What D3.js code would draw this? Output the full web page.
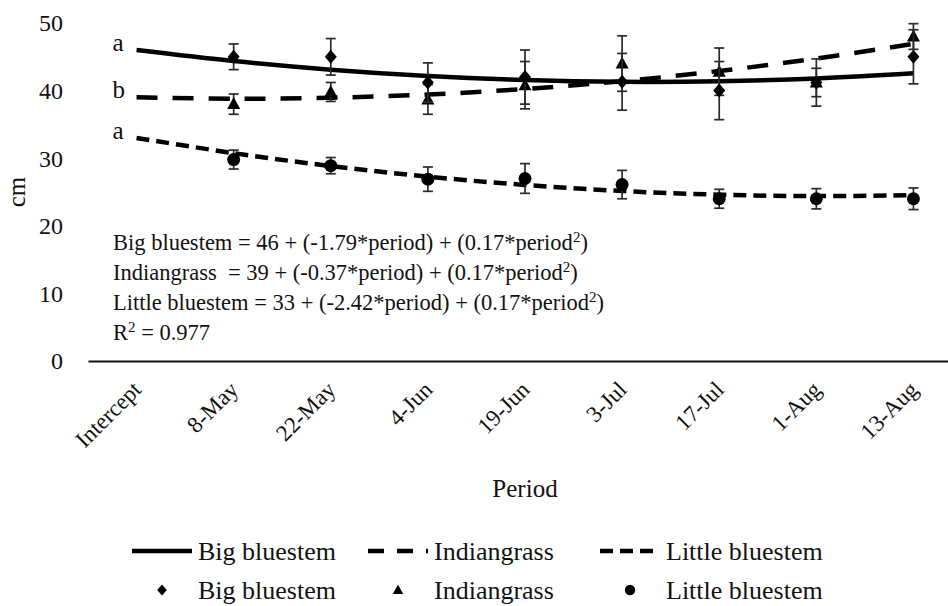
<!DOCTYPE html>
<html>
<head>
<meta charset="utf-8">
<script src="https://cdn.jsdelivr.net/npm/d3@7"></script>
<style>
  body { margin: 0; background: #fff; }
  svg { display: block; }
  svg text { font-family: "Liberation Serif", "Tinos", "Times New Roman", "Nimbus Roman", "FreeSerif", "Noto Serif", "DejaVu Serif", serif; }
</style>
</head>
<body>
<div id="chart"></div>
<script>
// x categories (Intercept = period 0)
const categories = ["Intercept", "8-May", "22-May", "4-Jun", "19-Jun", "3-Jul", "17-Jul", "1-Aug", "13-Aug"];
const sampleDates = categories.slice(1);
const yTicks = [0, 10, 20, 30, 40, 50];

const bigMean = [45.0, 45.0, 41.2, 42.0, 41.3, 40.0, 41.2, 45.0];
const bigErr = [1.9, 2.7, 2.9, 4.0, 4.2, 4.3, 3.5, 4.0];
const indMean = [38.0, 39.8, 38.7, 40.8, 44.0, 42.8, 41.2, 48.0];
const indErr = [1.5, 1.4, 2.2, 3.5, 4.1, 3.5, 2.1, 1.9];
const littleMean = [29.8, 28.9, 26.9, 27.0, 26.1, 24.0, 24.0, 24.0];
const littleErr = [1.4, 1.2, 1.8, 2.2, 2.1, 1.4, 1.5, 1.6];

// fitted curve values at each period
const bigFit = [46.0, 44.38, 43.10, 42.16, 41.56, 41.30, 41.38, 41.80, 42.56];
const indFit = [39.0, 38.80, 38.94, 39.42, 40.24, 41.40, 42.90, 44.74, 46.92];
const littleFit = [33.0, 30.75, 28.84, 27.27, 26.04, 25.15, 24.60, 24.39, 24.52];

const fitLetters = ["a", "b", "a"];
const seriesNames = ["Big bluestem", "Indiangrass", "Little bluestem"];
const equations = [
  ["Big bluestem = 46 + (-1.79*period) + (0.17*period", "2", ")"],
  ["Indiangrass  = 39 + (-0.37*period) + (0.17*period", "2", ")"],
  ["Little bluestem = 33 + (-2.42*period) + (0.17*period", "2", ")"],
  ["R", "2", " = 0.977"]
];

const width = 948, height = 606;
const svg = d3.select("#chart").append("svg")
  .attr("width", width)
  .attr("height", height);

const x = d3.scaleBand().domain(categories).range([88, 962]);
const cx = d => x(d) + x.bandwidth() / 2;
const y = d3.scaleLinear().domain([0, 50]).range([361, 23]);

// y axis: labels only
const gy = svg.append("g")
  .attr("transform", "translate(88,0)")
  .call(d3.axisLeft(y).tickValues(yTicks).tickSize(0).tickPadding(25));
gy.attr("font-family", null);
gy.select(".domain").remove();
gy.selectAll("text")
  .attr("font-size", 24)
  .attr("fill", "#111")
  .attr("dy", "0.33em");

// x axis
const gx = svg.append("g")
  .attr("transform", `translate(0,${y(0)})`)
  .call(d3.axisBottom(x).tickSize(0).tickSizeOuter(0));
gx.attr("font-family", null);
gx.select(".domain").attr("stroke", "#111").attr("stroke-width", 2);
gx.selectAll("text")
  .attr("font-size", 23)
  .attr("fill", "#111")
  .attr("text-anchor", "end")
  .attr("x", 0).attr("y", 0).attr("dy", 0)
  .attr("transform", "translate(6,30) rotate(-45)");

svg.append("text")
  .attr("x", 525).attr("y", 497)
  .attr("text-anchor", "middle")
  .attr("font-size", 25)
  .attr("fill", "#111")
  .text("Period");

svg.append("text")
  .attr("transform", "translate(25,192) rotate(-90)")
  .attr("text-anchor", "middle")
  .attr("font-size", 25)
  .attr("fill", "#111")
  .text("cm");

// fitted curves
const fits = [bigFit, indFit, littleFit];
const dashes = [null, "21,15", "13,7"];
const line = d3.line()
  .x((d, i) => cx(categories[i]))
  .y(d => y(d))
  .curve(d3.curveCatmullRom.alpha(0.5));

fits.forEach((f, k) => {
  svg.append("path")
    .datum(f)
    .attr("fill", "none")
    .attr("stroke", "#000")
    .attr("stroke-width", 4.5)
    .attr("stroke-dasharray", dashes[k])
    .attr("d", line);
  svg.append("text")
    .attr("x", cx(categories[0]) - 24)
    .attr("y", y(f[0]) + 1)
    .attr("font-size", 25)
    .attr("fill", "#111")
    .text(fitLetters[k]);
});

// marker shapes
const shapes = [
  "M0,-7L6,0L0,7L-6,0Z",
  "M0,-7L6.5,5L-6.5,5Z",
  d3.symbol(d3.symbolCircle, Math.PI * 6.5 * 6.5)()
];

const obs = [
  { mean: indMean, err: indErr, shape: shapes[1] },
  { mean: bigMean, err: bigErr, shape: shapes[0] },
  { mean: littleMean, err: littleErr, shape: shapes[2] }
];

obs.forEach(s => {
  const g = svg.append("g");
  const eb = g.selectAll(".eb")
    .data(sampleDates)
    .enter()
    .append("g")
    .attr("stroke", "#2a2a2a")
    .attr("stroke-width", 1.7);
  eb.append("line")
    .attr("x1", d => cx(d)).attr("x2", d => cx(d))
    .attr("y1", (d, i) => y(s.mean[i] + s.err[i]))
    .attr("y2", (d, i) => y(s.mean[i] - s.err[i]));
  eb.append("line")
    .attr("x1", d => cx(d) - 5).attr("x2", d => cx(d) + 5)
    .attr("y1", (d, i) => y(s.mean[i] + s.err[i]))
    .attr("y2", (d, i) => y(s.mean[i] + s.err[i]));
  eb.append("line")
    .attr("x1", d => cx(d) - 5).attr("x2", d => cx(d) + 5)
    .attr("y1", (d, i) => y(s.mean[i] - s.err[i]))
    .attr("y2", (d, i) => y(s.mean[i] - s.err[i]));
  g.selectAll(".pt")
    .data(sampleDates)
    .enter()
    .append("path")
    .attr("d", s.shape)
    .attr("transform", (d, i) => `translate(${cx(d)},${y(s.mean[i])})`)
    .attr("fill", "#000");
});

// equation box
const eq = svg.append("text")
  .attr("font-size", 22.5)
  .attr("fill", "#111")
  .attr("xml:space", "preserve");
equations.forEach((parts, i) => {
  const base = 250 + i * 30;
  eq.append("tspan").attr("x", 113).attr("y", base).text(parts[0]);
  eq.append("tspan").attr("y", base - 8).attr("font-size", 15).text(parts[1]);
  eq.append("tspan").attr("y", base).text(parts[2]);
});

// legend
const legendX = [132, 368, 600];
const legend = svg.append("g");
seriesNames.forEach((name, k) => {
  const lx = legendX[k];
  legend.append("line")
    .attr("x1", lx).attr("x2", lx + 60)
    .attr("y1", 551).attr("y2", 551)
    .attr("stroke", "#000")
    .attr("stroke-width", 4.5)
    .attr("stroke-dasharray", k === 1 ? "16,13" : k === 2 ? "13,7" : null);
  legend.append("text")
    .attr("x", lx + 66).attr("y", 560)
    .attr("font-size", 26)
    .attr("fill", "#111")
    .text(name);
  legend.append("path")
    .attr("d", shapes[k])
    .attr("transform", `translate(${lx + 30},590) scale(0.8)`)
    .attr("fill", "#000");
  legend.append("text")
    .attr("x", lx + 66).attr("y", 599)
    .attr("font-size", 26)
    .attr("fill", "#111")
    .text(name);
});
</script>
</body>
</html>
